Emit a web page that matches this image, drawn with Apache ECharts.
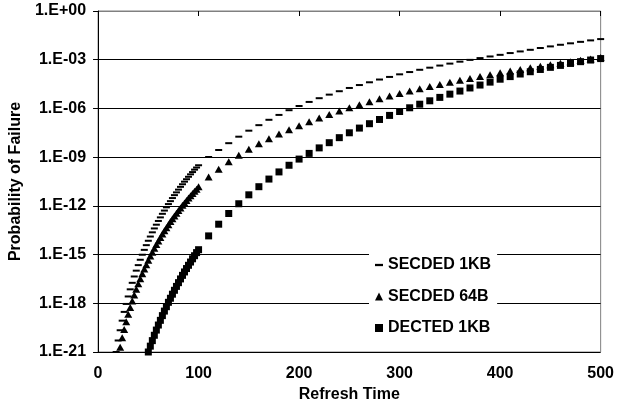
<!DOCTYPE html>
<html>
<head>
<meta charset="utf-8">
<script src="https://cdn.jsdelivr.net/npm/echarts@6/dist/echarts.min.js"></script>
<style>html,body{margin:0;padding:0;background:#fff}#c{width:617px;height:409px}</style>
</head>
<body>
<div id="c"></div>
<script>
// Refresh times (x)
var refreshTimes = [18,20,22,24,26,28,30,32,34,36,38,40,42,44,46,48,50,52,54,56,58,60,62,64,66,68,70,72,74,76,78,80,82,84,86,88,90,92,94,96,98,100,
  110,120,130,140,150,160,170,180,190,200,210,220,230,240,250,260,270,280,290,300,310,320,330,340,350,360,370,380,390,400,410,420,430,440,450,460,470,480,490,500];
// Probability of failure, given as log10(probability) (the chart's y axis is logarithmic)
var secded1kbLog = [-21.00,-20.29,-19.66,-19.07,-18.53,-18.04,-17.58,-17.14,-16.74,-16.35,-15.99,-15.65,-15.32,-15.01,-14.71,-14.42,-14.15,-13.89,-13.63,-13.39,-13.16,-12.93,-12.71,-12.49,-12.29,-12.09,-11.89,-11.71,-11.52,-11.34,-11.17,-11.00,-10.83,-10.67,-10.51,-10.36,-10.21,-10.06,-9.92,-9.77,-9.64,-9.50,
  -8.99,-8.56,-8.14,-7.74,-7.37,-7.03,-6.70,-6.40,-6.11,-5.85,-5.60,-5.37,-5.15,-4.94,-4.74,-4.56,-4.39,-4.22,-4.06,-3.90,-3.76,-3.62,-3.49,-3.36,-3.24,-3.12,-3.01,-2.90,-2.80,-2.70,-2.59,-2.49,-2.39,-2.28,-2.18,-2.08,-1.99,-1.90,-1.81,-1.73];
var secded64bLog = [null,null,-20.70,-20.13,-19.61,-19.13,-18.68,-18.26,-17.86,-17.49,-17.14,-16.80,-16.49,-16.18,-15.89,-15.62,-15.35,-15.09,-14.85,-14.61,-14.38,-14.16,-13.95,-13.74,-13.54,-13.35,-13.16,-12.97,-12.80,-12.62,-12.45,-12.29,-12.13,-11.97,-11.82,-11.67,-11.52,-11.38,-11.24,-11.10,-10.97,-10.83,
  -10.22,-9.74,-9.29,-8.88,-8.51,-8.18,-7.87,-7.58,-7.31,-7.06,-6.82,-6.59,-6.37,-6.16,-5.96,-5.77,-5.59,-5.41,-5.24,-5.08,-4.93,-4.79,-4.65,-4.52,-4.39,-4.27,-4.15,-4.03,-3.92,-3.81,-3.70,-3.60,-3.50,-3.41,-3.31,-3.22,-3.13,-3.04,-2.95,-2.86];
var dected1kbLog = [null,null,null,null,null,null,null,null,null,null,null,null,null,null,null,null,-21.00,-20.64,-20.30,-19.97,-19.65,-19.34,-19.05,-18.76,-18.48,-18.21,-17.94,-17.69,-17.44,-17.20,-16.96,-16.73,-16.50,-16.28,-16.07,-15.86,-15.66,-15.46,-15.26,-15.07,-14.88,-14.70,
  -13.85,-13.13,-12.47,-11.87,-11.32,-10.82,-10.35,-9.91,-9.50,-9.12,-8.77,-8.43,-8.11,-7.80,-7.50,-7.21,-6.94,-6.68,-6.43,-6.19,-5.96,-5.74,-5.53,-5.32,-5.12,-4.93,-4.74,-4.56,-4.38,-4.20,-4.04,-3.88,-3.74,-3.60,-3.47,-3.35,-3.23,-3.12,-3.02,-2.93];
var seriesNames = ['SECDED 1KB','SECDED 64B','DECTED 1KB'];
var yTickLabels = ['1.E-21','1.E-18','1.E-15','1.E-12','1.E-09','1.E-06','1.E-03','1.E+00'];
var yTickExponents = [-21,-18,-15,-12,-9,-6,-3,0];

function pairs(logs){
  var out=[];
  for(var i=0;i<refreshTimes.length;i++){
    if(logs[i]!==null) out.push([refreshTimes[i], logs[i]]);
  }
  return out;
}
var FONT = 'Liberation Sans';
var chart = echarts.init(document.getElementById('c'), null, {renderer:'canvas'});
chart.setOption({
  animation:false,
  backgroundColor:'#fff',
  grid:{left:91,right:15,top:11,bottom:57,show:true,borderColor:'#808080',borderWidth:1,backgroundColor:'transparent'},
  legend:{
    orient:'vertical', left:369, top:250, padding:[6,6,6,6],
    backgroundColor:'#fff', itemWidth:8, itemHeight:8, itemGap:13.5,
    textStyle:{fontFamily:FONT,fontWeight:'bold',fontSize:16,color:'#000',lineHeight:18},
    data:[
      {name:seriesNames[0], icon:'path://M0,0H7V2H0Z'},
      {name:seriesNames[1], icon:'triangle'},
      {name:seriesNames[2], icon:'rect'}
    ]
  },
  xAxis:{
    type:'value', min:0, max:500, interval:100,
    name:'Refresh Time', nameLocation:'middle', nameGap:34,
    nameTextStyle:{fontFamily:FONT,fontWeight:'bold',fontSize:16,color:'#000'},
    axisLine:{lineStyle:{color:'#808080',width:1}},
    axisTick:{show:true,length:5,lineStyle:{color:'#000'}},
    axisLabel:{fontFamily:FONT,fontWeight:'bold',fontSize:16,color:'#000',margin:14},
    splitLine:{show:false}
  },
  yAxis:{
    type:'value', min:-21, max:0, interval:3,
    name:'Probability of Failure', nameLocation:'middle', nameGap:69, nameRotate:90,
    nameTextStyle:{fontFamily:FONT,fontWeight:'bold',fontSize:16,color:'#000'},
    axisLine:{show:true,lineStyle:{color:'#000',width:1}},
    axisTick:{show:true,length:5,lineStyle:{color:'#000'}},
    axisLabel:{fontFamily:FONT,fontWeight:'bold',fontSize:16,color:'#000',margin:12,
      formatter:function(v){
        var i=yTickExponents.indexOf(Math.round(v));
        return i<0?'':yTickLabels[i];
      }},
    splitLine:{show:true,lineStyle:{color:'#000',width:1}}
  },
  series:[
    {name:seriesNames[0], type:'scatter', symbol:'rect', symbolSize:[7,2], itemStyle:{color:'#000',opacity:1}, data:pairs(secded1kbLog)},
    {name:seriesNames[1], type:'scatter', symbol:'triangle', symbolSize:[8,7], itemStyle:{color:'#000',opacity:1}, data:pairs(secded64bLog)},
    {name:seriesNames[2], type:'scatter', symbol:'rect', symbolSize:7, itemStyle:{color:'#000',opacity:1}, data:pairs(dected1kbLog)}
  ]
});
</script>
</body>
</html>
